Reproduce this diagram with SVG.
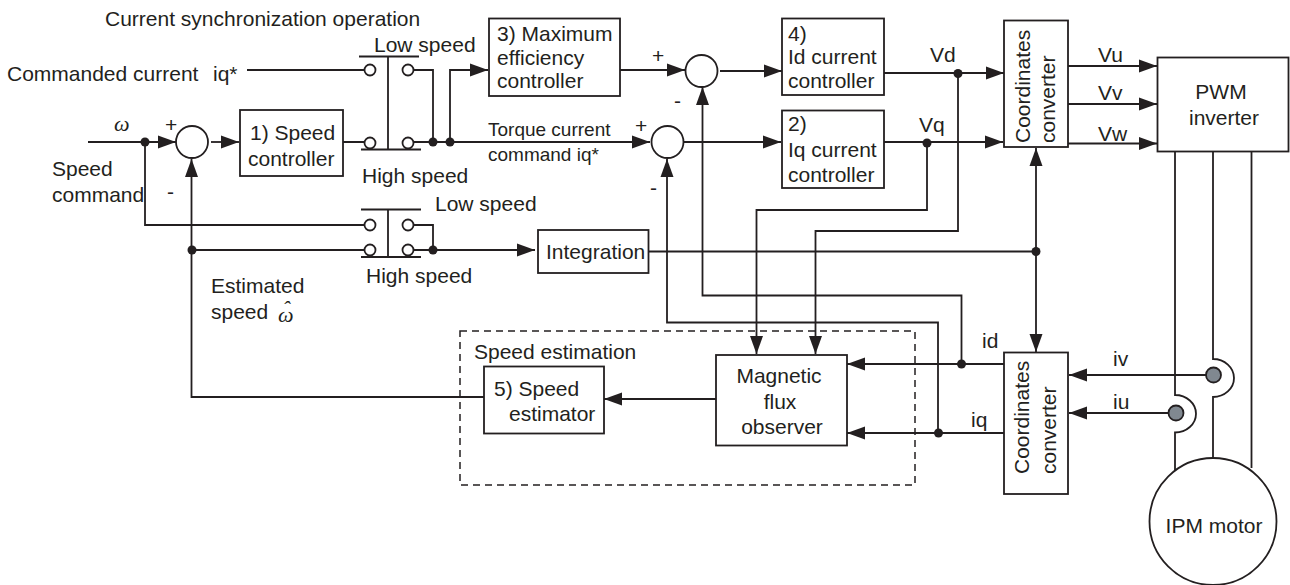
<svg xmlns="http://www.w3.org/2000/svg" width="1290" height="585" viewBox="0 0 1290 585">
<style>
text{font-family:"Liberation Sans",Arial,sans-serif;font-size:21px;fill:#231f20}
.s{font-size:19px}
.m{text-anchor:middle}
.g{font-family:"Liberation Serif",serif;font-style:italic;font-size:22px}
.b{fill:#fff;stroke:#231f20;stroke-width:1.8}
.l{fill:none;stroke:#231f20;stroke-width:1.8}
.a{fill:none;stroke:#231f20;stroke-width:1.8;marker-end:url(#arr)}
.d{fill:#231f20}
.o{fill:#fff;stroke:#231f20;stroke-width:1.8}
.p{fill:#808890;stroke:#231f20;stroke-width:1.8}
</style>
<defs>
<marker id="arr" markerUnits="userSpaceOnUse" markerWidth="18" markerHeight="14" refX="18" refY="7" orient="auto"><path d="M0 0.5L18 7L0 13.5Z" fill="#231f20"/></marker>
</defs>
<rect width="1290" height="585" fill="#fff"/>
<g id="connectors">
<path class="l" d="M247 70H365"/>
<path class="l" d="M413 70H433V143"/>
<path class="a" d="M450 142V70H488"/>
<path class="l" d="M343 142H365M413 142H450"/>
<path class="a" d="M450 142H650"/>
<path class="a" d="M88 142H176"/>
<path class="a" d="M211 142H239"/>
<path class="l" d="M145 142V225H365"/>
<path class="l" d="M413 225H433V250"/>
<path class="l" d="M192 250H365"/>
<path class="a" d="M413 250H535"/>
<path class="a" d="M484 397H191.500V159"/>
<path class="a" d="M620 70H685"/>
<path class="a" d="M720 71H782"/>
<path class="a" d="M684 142H781"/>
<path class="a" d="M961.500 364V295.500H702.500V87"/>
<path class="a" d="M938 433V322.500H667V159"/>
<path class="a" d="M927 143V210H756.500V354"/>
<path class="a" d="M958 73V231H815.500V354"/>
<path class="a" d="M884 73H1004"/>
<path class="a" d="M884 142H1003"/>
<path class="a" d="M1068 66H1157"/>
<path class="a" d="M1068 104H1157"/>
<path class="a" d="M1068 143.500H1157"/>
<path class="l" d="M648 251.500H1036"/>
<path class="a" d="M1036 251.500V148"/>
<path class="a" d="M1036 251.500V352"/>
<path class="a" d="M1004 364H847"/>
<path class="a" d="M1004 433H847"/>
<path class="a" d="M716 399H604"/>
<path class="a" d="M1207 375H1069"/>
<path class="a" d="M1169 413H1069"/>
<path class="l" d="M1175 151V395A21 18.750 0 0 1 1175 432.500V470"/>
<path class="l" d="M1213 151V359A21 19 0 0 1 1213 397V458"/>
<path class="l" d="M1251.500 151V468"/>
<circle class="d" cx="145" cy="142" r="4.500"/>
<circle class="d" cx="192" cy="250" r="4.500"/>
<circle class="d" cx="433" cy="142" r="4.500"/>
<circle class="d" cx="450" cy="142" r="4.500"/>
<circle class="d" cx="433" cy="250" r="4.500"/>
<circle class="d" cx="958" cy="73.500" r="4.500"/>
<circle class="d" cx="927" cy="143" r="4.500"/>
<circle class="d" cx="1036" cy="251.500" r="4.500"/>
<circle class="d" cx="961.500" cy="364" r="4.500"/>
<circle class="d" cx="938.500" cy="433" r="4.500"/>
</g>
<g id="sum-speed"><circle class="b" cx="192" cy="142" r="16"/></g>
<g id="sum-id"><circle class="b" cx="701.500" cy="71" r="16"/></g>
<g id="sum-iq"><circle class="b" cx="667.500" cy="142" r="16"/></g>
<g id="switch-upper">
<path class="l" d="M359 56.500H419M388 57V149M361 149.500H421"/>
<circle class="o" cx="370" cy="70" r="5.500"/><circle class="o" cx="408" cy="70" r="5.500"/>
<circle class="o" cx="370" cy="143" r="5.500"/><circle class="o" cx="408" cy="143" r="5.500"/>
<text x="374" y="51.500">Low speed</text>
<text x="362" y="182.500">High speed</text>
</g>
<g id="switch-lower">
<path class="l" d="M361 209.500H421M388 210V257M361 257H421"/>
<circle class="o" cx="370" cy="225" r="5.500"/><circle class="o" cx="408" cy="225" r="5.500"/>
<circle class="o" cx="370" cy="250" r="5.500"/><circle class="o" cx="408" cy="250" r="5.500"/>
<text x="435" y="211">Low speed</text>
<text x="366" y="282.500">High speed</text>
</g>
<g id="speed-controller"><rect class="b" x="240" y="110" width="103" height="66"/>
<text x="250" y="140">1) Speed</text><text x="248" y="165.500">controller</text></g>
<g id="max-efficiency"><rect class="b" x="489" y="18.500" width="131" height="77.500"/>
<text x="497" y="41">3) Maximum</text><text x="497" y="65">efficiency</text><text x="497" y="88">controller</text></g>
<g id="id-controller"><rect class="b" x="782" y="18.500" width="102" height="76.500"/>
<text x="788" y="40.500">4)</text><text x="788" y="64">Id current</text><text x="788" y="88">controller</text></g>
<g id="iq-controller"><rect class="b" x="782" y="110.500" width="102" height="77.500"/>
<text x="788" y="131">2)</text><text x="788" y="157">Iq current</text><text x="788" y="182">controller</text></g>
<g id="integration"><rect class="b" x="538" y="230" width="110.500" height="43"/>
<text x="546" y="259">Integration</text></g>
<g id="coordinates-upper"><rect class="b" x="1004" y="20.500" width="64" height="126.500"/>
<text transform="translate(1030 143) rotate(-90)">Coordinates</text><text transform="translate(1055 143) rotate(-90)">converter</text></g>
<g id="pwm-inverter"><rect class="b" x="1157.500" y="57.500" width="131" height="94"/>
<text class="m" x="1221" y="99">PWM</text><text class="m" x="1224" y="125">inverter</text></g>
<g id="coordinates-lower"><rect class="b" x="1004" y="352.500" width="64" height="141.500"/>
<text transform="translate(1029 474) rotate(-90)">Coordinates</text><text transform="translate(1056 474) rotate(-90)">converter</text></g>
<g id="ipm-motor"><circle class="b" cx="1213" cy="521.500" r="63.500"/>
<text class="m" x="1214" y="532.500">IPM motor</text></g>
<g id="sensor-v"><circle class="p" cx="1213.500" cy="375" r="7.500"/></g>
<g id="sensor-u"><circle class="p" cx="1176" cy="413" r="7.500"/></g>
<g id="speed-estimation">
<rect x="460" y="331" width="455" height="154" fill="none" stroke="#231f20" stroke-width="1.500" stroke-dasharray="7 5"/>
<text x="474" y="359">Speed estimation</text></g>
<g id="speed-estimator"><rect class="b" x="484" y="366.500" width="120" height="67"/>
<text x="494" y="396">5) Speed</text><text x="509" y="421">estimator</text></g>
<g id="flux-observer"><rect class="b" x="716" y="355" width="131" height="90.500"/>
<text class="m" x="779" y="383">Magnetic</text><text class="m" x="780" y="409">flux</text><text class="m" x="782" y="434">observer</text></g>
<g id="labels">
<text x="105" y="26">Current synchronization operation</text>
<text x="7" y="81">Commanded current</text><text x="213" y="81">iq*</text>
<text class="g" x="114" y="131">ω</text>
<text x="52" y="175.500">Speed</text><text x="52" y="201.500">command</text>
<text x="165" y="132">+</text><text x="167" y="199">-</text>
<text x="652" y="63">+</text><text x="674" y="108">-</text>
<text x="635" y="133">+</text><text x="650" y="195">-</text>
<text class="s" x="488" y="136">Torque current</text><text class="s" x="488" y="161">command iq*</text>
<text x="930" y="62">Vd</text><text x="919" y="132">Vq</text>
<text x="1098" y="61.500">Vu</text><text x="1098" y="100">Vv</text><text x="1098" y="141">Vw</text>
<text x="982" y="348">id</text><text x="971" y="426.500">iq</text>
<text x="1113" y="366">iv</text><text x="1113" y="409">iu</text>
<text x="211" y="293">Estimated</text><text x="211" y="319">speed</text>
<text class="g" x="278" y="321.500">ω<tspan dx="-11" dy="-6">ˆ</tspan></text>
</g>
</svg>
